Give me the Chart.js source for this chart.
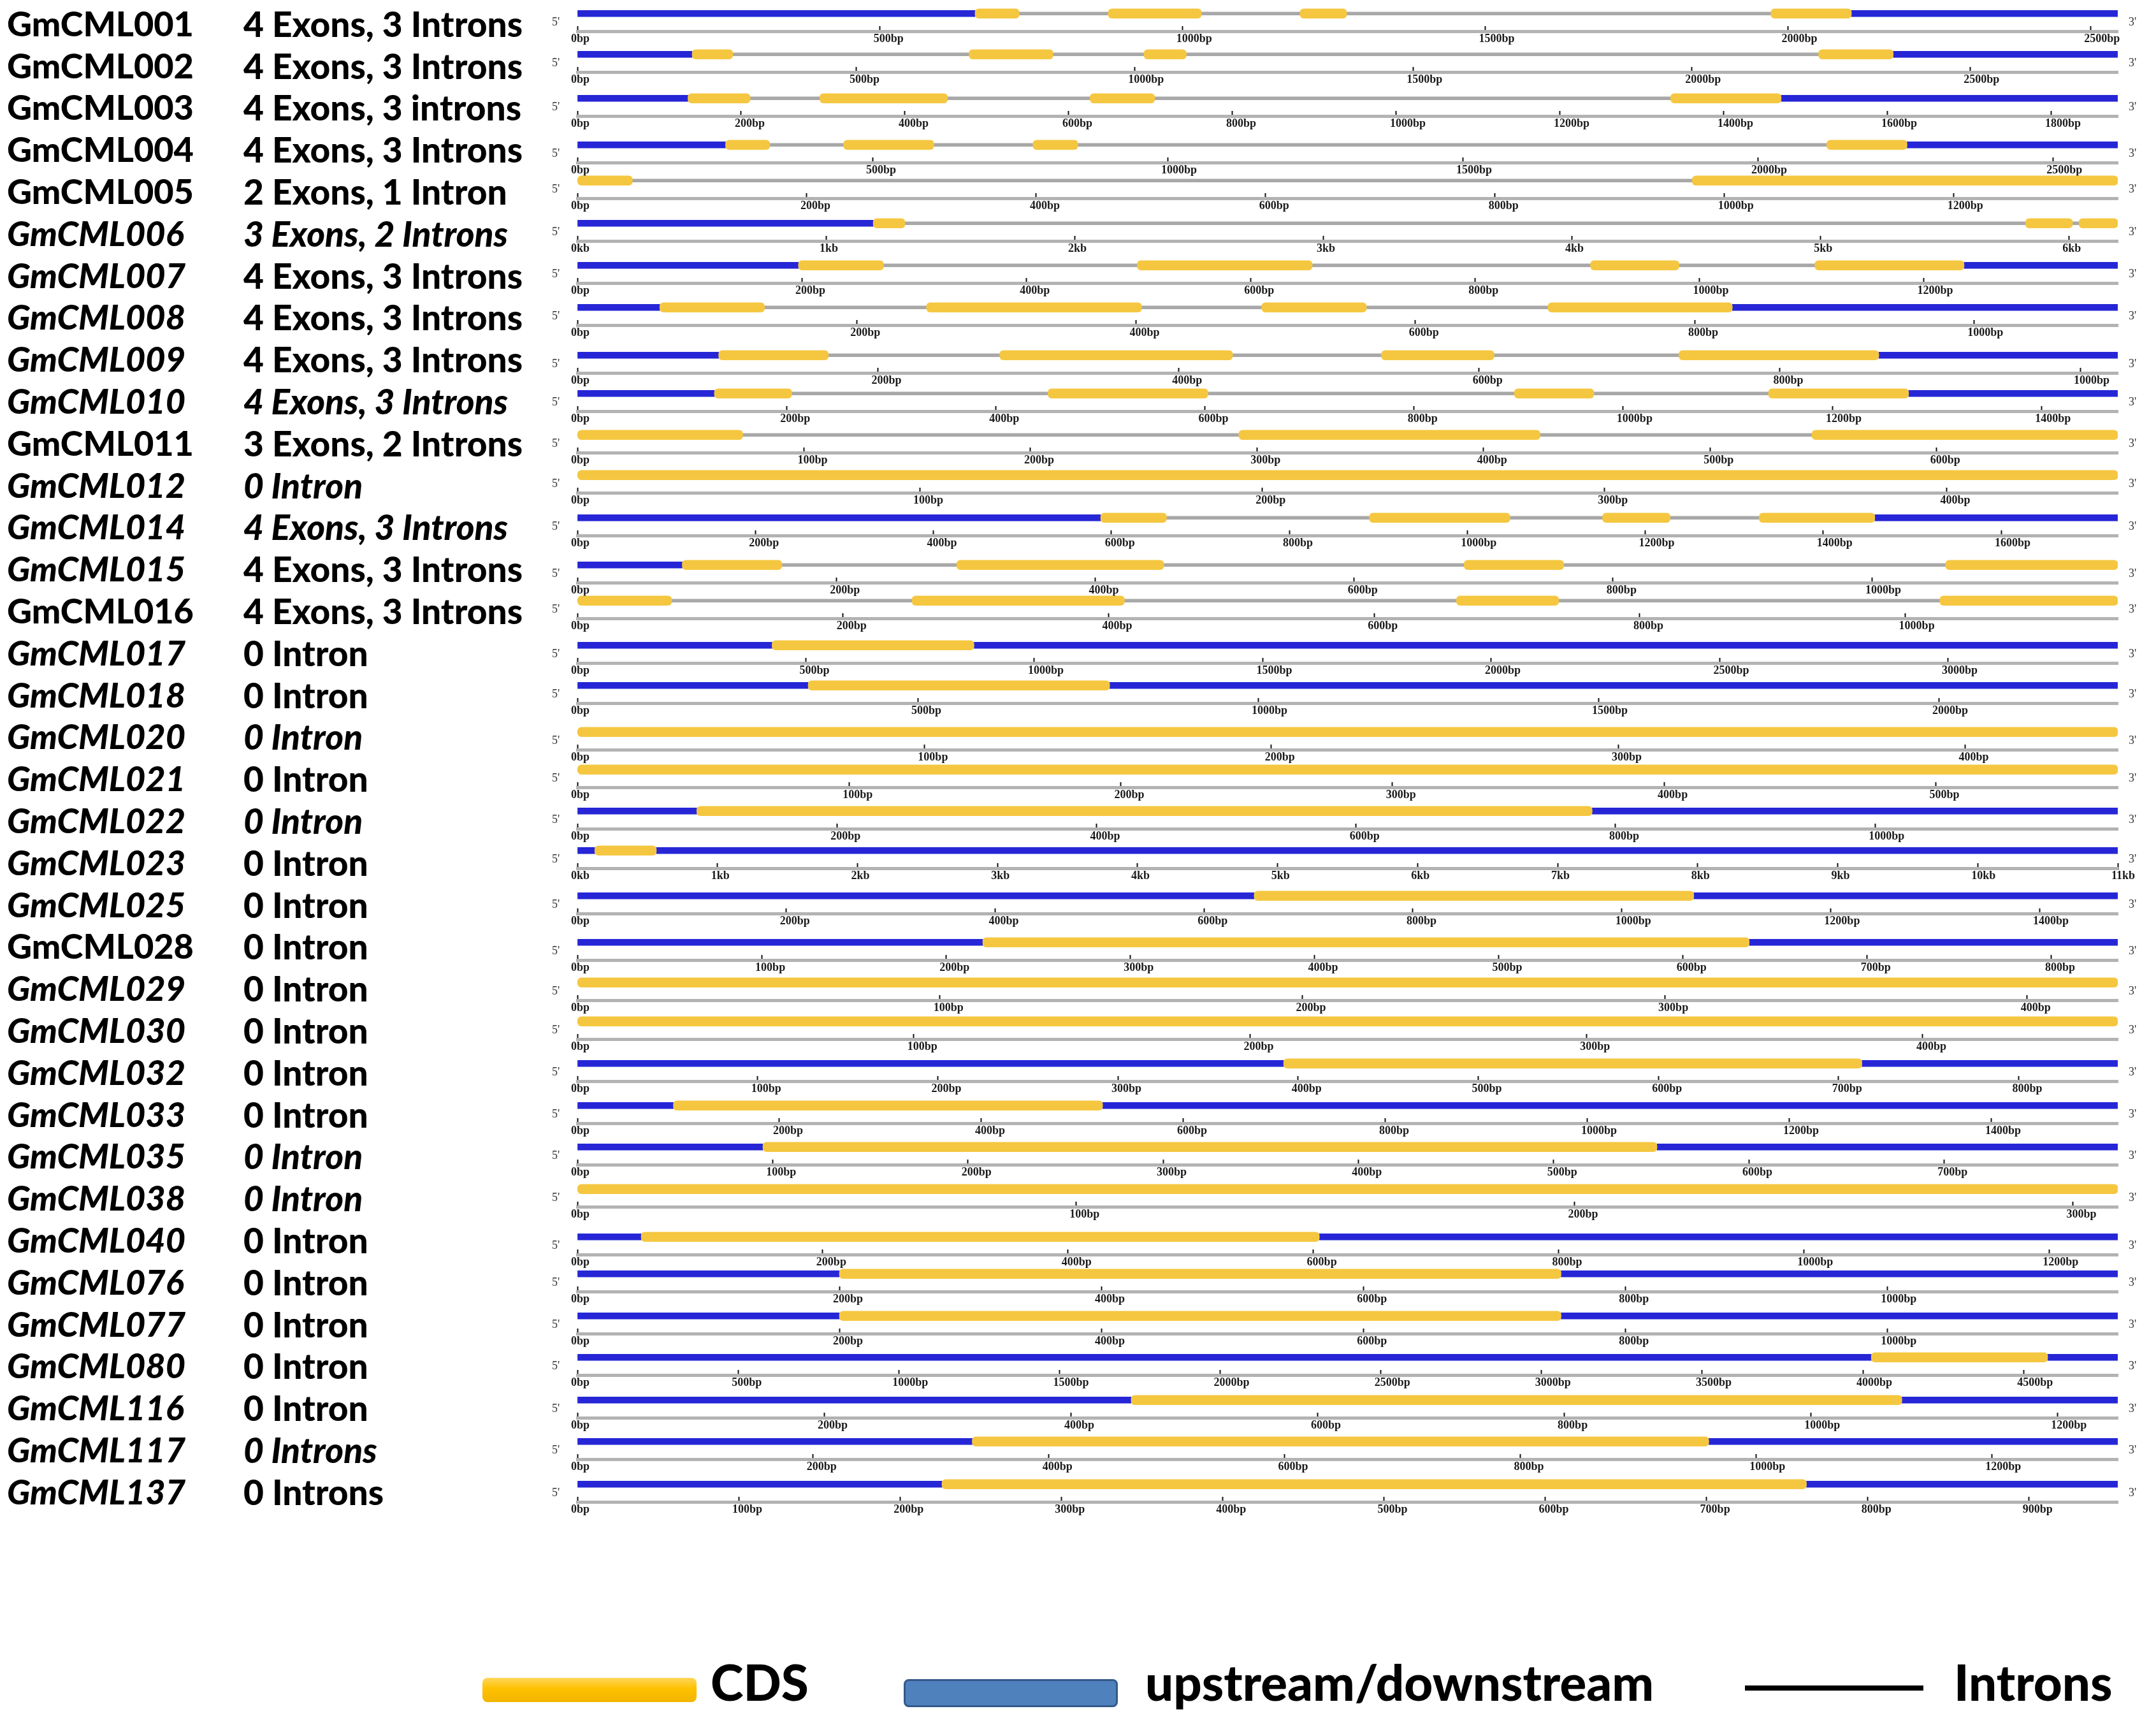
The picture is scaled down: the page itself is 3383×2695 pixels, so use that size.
<!DOCTYPE html>
<html>
<head>
<meta charset="utf-8">
<script src="https://cdn.jsdelivr.net/npm/chart.js@4.4.1/dist/chart.umd.min.js"></script>
<style>
  html, body { margin: 0; padding: 0; background: #fff; }
  body { width: 3383px; height: 2695px; position: relative; overflow: hidden; font-family: Lato, 'Open Sans', sans-serif; }
  .name, .note { position: absolute; font-weight: 900; font-size: 54px; line-height: 66px; color: #000; white-space: nowrap; }
  .name { left: 11px; }
  .note { left: 382px; font-size: 55px; }
  .it { font-style: italic; }
  .track { position: absolute; }
  .prime { position: absolute; font-family: 'Liberation Serif', serif; font-size: 18px; line-height: 18px; color: #333; }
  .lg-text { position: absolute; top: 2593px; font-weight: 900; font-size: 78px; line-height: 90px; color: #000; white-space: nowrap; }
  .lg-box { position: absolute; }
</style>
</head>
<body>
<script>
// gene ids and structure notes, top to bottom
const geneNames = ['GmCML001','GmCML002','GmCML003','GmCML004','GmCML005','GmCML006','GmCML007','GmCML008',
  'GmCML009','GmCML010','GmCML011','GmCML012','GmCML014','GmCML015','GmCML016','GmCML017','GmCML018',
  'GmCML020','GmCML021','GmCML022','GmCML023','GmCML025','GmCML028','GmCML029','GmCML030','GmCML032',
  'GmCML033','GmCML035','GmCML038','GmCML040','GmCML076','GmCML077','GmCML080','GmCML116','GmCML117','GmCML137'];

const structureNotes = ['4 Exons, 3 Introns','4 Exons, 3 Introns','4 Exons, 3 introns','4 Exons, 3 Introns',
  '2 Exons, 1 Intron','3 Exons, 2 Introns','4 Exons, 3 Introns','4 Exons, 3 Introns','4 Exons, 3 Introns',
  '4 Exons, 3 Introns','3 Exons, 2 Introns','0 Intron','4 Exons, 3 Introns','4 Exons, 3 Introns',
  '4 Exons, 3 Introns','0 Intron','0 Intron','0 Intron','0 Intron','0 Intron','0 Intron','0 Intron',
  '0 Intron','0 Intron','0 Intron','0 Intron','0 Intron','0 Intron','0 Intron','0 Intron','0 Intron',
  '0 Intron','0 Intron','0 Intron','0 Introns','0 Introns'];

// gene length (bp) and ruler step
const geneLength = [2545, 2765, 1881, 2610, 1343, 6197, 1373, 1103, 1025, 1473, 680, 450, 1731, 1190, 1160,
  3371, 2263, 444, 567, 1187, 11000, 1475, 836, 425, 458, 855, 1525, 789, 309, 1256, 1176, 1176, 4793,
  1249, 1307, 955];
const tickStep = [500, 500, 200, 500, 200, 1000, 200, 200, 200, 200, 100, 100, 200, 200, 200,
  500, 500, 100, 100, 200, 1000, 200, 100, 100, 100, 100, 200, 100, 100, 200, 200, 200, 500,
  200, 200, 100];
const tickUnit = ['bp','bp','bp','bp','bp','kb','bp','bp','bp','bp','bp','bp','bp','bp','bp',
  'bp','bp','bp','bp','bp','kb','bp','bp','bp','bp','bp','bp','bp','bp','bp','bp','bp','bp',
  'bp','bp','bp'];

// upstream/downstream regions [start, end] in bp
const utrSegments = [
  [[0,657],[2105,2545]], [[0,206],[2362,2765]], [[0,135],[1470,1881]], [[0,251],[2253,2610]],
  [], [[0,1190]], [[0,197],[1236,1373]], [[0,59],[827,1103]], [[0,94],[866,1025]],
  [[0,131],[1273,1473]], [], [], [[0,588],[1458,1731]], [[0,81]], [],
  [[0,426],[868,3371]], [[0,339],[782,2263]], [], [], [[0,92],[782,1187]], [[0,124],[564,11000]],
  [[0,648],[1069,1475]], [[0,220],[636,836]], [], [], [[0,392],[713,855]], [[0,95],[520,1525]],
  [[0,95],[553,789]], [], [[0,52],[605,1256]], [[0,200],[751,1176]], [[0,200],[751,1176]],
  [[0,4026],[4575,4793]], [[0,449],[1074,1249]], [[0,335],[960,1307]], [[0,226],[762,955]]
];

// CDS exons [start, end] in bp
const cdsSegments = [
  [[657,730],[877,1031],[1194,1271],[1972,2105]],
  [[206,279],[703,854],[1017,1093],[2228,2362]],
  [[135,211],[296,452],[626,705],[1335,1470]],
  [[251,326],[451,604],[772,848],[2117,2253]],
  [[0,48],[972,1343]],
  [[1190,1318],[5826,6015],[6041,6197]],
  [[197,273],[499,655],[903,982],[1103,1236]],
  [[59,134],[250,404],[490,565],[695,827]],
  [[94,167],[281,436],[535,610],[733,866]],
  [[131,205],[450,603],[896,972],[1139,1273]],
  [[0,73],[292,425],[545,680]],
  [[0,450]],
  [[588,662],[890,1048],[1152,1228],[1328,1458]],
  [[81,158],[293,453],[685,762],[1057,1190]],
  [[0,71],[252,412],[662,739],[1026,1160]],
  [[426,868]], [[339,782]], [[0,444]], [[0,567]], [[92,782]], [[124,564]], [[648,1069]],
  [[220,636]], [[0,425]], [[0,458]], [[392,713]], [[95,520]], [[95,553]], [[0,309]],
  [[52,605]], [[200,751]], [[200,751]], [[4026,4575]], [[449,1074]], [[335,960]], [[226,762]]
];

// layout only
const trackY = [21, 85, 154, 227, 283, 350, 416, 482, 557, 617, 682, 745, 812, 886, 942, 1012, 1075,
  1148, 1207, 1272, 1334, 1405, 1478, 1541, 1602, 1668, 1734, 1799, 1865, 1940, 1998, 2064, 2129,
  2196, 2261, 2328];
const nameItalic = [0,0,0,0,0,1,1,1,1,1,0,1,1,1,0,1,1,1,1,1,1,1,0,1,1,1,1,1,1,1,1,1,1,1,1,1];
const noteItalic = [0,0,0,0,0,1,0,0,0,1,0,1,1,0,0,0,0,1,0,1,0,0,0,0,0,0,0,1,1,0,0,0,0,0,1,0];

const TRACK_LEFT = 906;
const TRACK_WIDTH = 2417;
const AXIS_GAP = 28;

function addText(cls, text, left, top) {
  const d = document.createElement('div');
  d.className = cls;
  d.textContent = text;
  if (left !== null) d.style.left = left + 'px';
  d.style.top = top + 'px';
  document.body.appendChild(d);
  return d;
}

function buildTrack(i) {
  const wrap = document.createElement('div');
  wrap.className = 'track';
  const canvas = document.createElement('canvas');
  canvas.width = TRACK_WIDTH + 160;
  canvas.height = 8 + Math.round(AXIS_GAP * 4 / 3) + 32;
  wrap.appendChild(canvas);
  document.body.appendChild(wrap);

  const toPoints = segs => segs.map(s => ({ y: 'gene', x: s }));

  const chart = new Chart(canvas, {
    type: 'bar',
    data: {
      labels: ['gene', 'axis'],
      datasets: [
        {
          label: 'CDS',
          data: toPoints(cdsSegments[i]),
          backgroundColor: '#f5c740',
          barThickness: 15,
          borderRadius: 6,
          borderSkipped: false,
          grouped: false,
          order: 0
        },
        {
          label: 'upstream/downstream',
          data: toPoints(utrSegments[i]),
          backgroundColor: '#2626d6',
          barThickness: 10,
          grouped: false,
          order: 1
        },
        {
          label: 'Introns',
          data: [{ y: 'gene', x: [0, geneLength[i]] }],
          backgroundColor: '#a8a8a8',
          barThickness: 5,
          grouped: false,
          order: 2
        }
      ]
    },
    options: {
      indexAxis: 'y',
      responsive: false,
      animation: false,
      devicePixelRatio: 1,
      events: [],
      layout: { padding: { left: 60, right: 100, top: 8, bottom: 0 } },
      plugins: { legend: { display: false }, tooltip: { enabled: false } },
      scales: {
        y: { type: 'category', display: false, offset: true },
        x: {
          type: 'linear',
          position: 'bottom',
          min: 0,
          max: geneLength[i],
          // ruler ticks every tickStep from 0 up to the gene length
          afterBuildTicks: s => {
            const ticks = [];
            for (let v = 0; v <= geneLength[i]; v += tickStep[i]) ticks.push({ value: v });
            s.ticks = ticks;
          },
          afterFit: s => { s.height = 32; },
          border: { color: '#b3b3b3', width: 5 },
          grid: { drawOnChartArea: false, drawTicks: true, tickLength: -8, tickColor: '#111', tickWidth: 2 },
          ticks: {
            autoSkip: false,
            maxRotation: 0,
            align: 'start',
            labelOffset: -10,
            padding: 10,
            color: '#1a1a1a',
            font: { family: 'Liberation Serif', size: 18, weight: 'bold' },
            callback: v => tickUnit[i] === 'kb' ? (v / 1000) + 'kb' : v + 'bp'
          }
        }
      }
    }
  });

  // keep chart area exactly the track width
  const w = chart.chartArea.right - chart.chartArea.left;
  if (Math.abs(w - TRACK_WIDTH) > 0.5) {
    chart.resize(canvas.width + (TRACK_WIDTH - w), canvas.height);
  }
  const area = chart.chartArea;
  const yPix = chart.scales.y.getPixelForValue(0);
  wrap.style.left = (TRACK_LEFT - area.left) + 'px';
  wrap.style.top = (trackY[i] - yPix) + 'px';
}

for (let i = 0; i < geneNames.length; i++) {
  buildTrack(i);
}

for (let i = 0; i < geneNames.length; i++) {
  const rowCenter = 36.7 + i * 65.8;
  const n = addText('name', geneNames[i], null, rowCenter - 33);
  if (nameItalic[i]) n.classList.add('it');
  const t = addText('note', structureNotes[i], null, rowCenter - 33);
  if (noteItalic[i]) t.classList.add('it');
  addText('prime', "5'", 866, trackY[i] + 4);
  addText('prime', "3'", 3340, trackY[i] + 4);
}

// legend
function addBox(left, top, width, height, css) {
  const b = document.createElement('div');
  b.className = 'lg-box';
  b.style.cssText = `left:${left}px;top:${top}px;width:${width}px;height:${height}px;` + css;
  document.body.appendChild(b);
}
addBox(757, 2632, 336, 38, 'background:linear-gradient(#ffd75a,#ffc000 45%,#f2b500);border-radius:8px;');
addText('lg-text', 'CDS', 1115, 2593);
addBox(1418, 2634, 330, 38, 'background:#4f81bd;border:3px solid #34598a;border-radius:8px;');
addText('lg-text', 'upstream/downstream', 1797, 2593);
addBox(2738, 2644, 280, 8, 'background:#000;');
addText('lg-text', 'Introns', 3066, 2593);
</script>
</body>
</html>
